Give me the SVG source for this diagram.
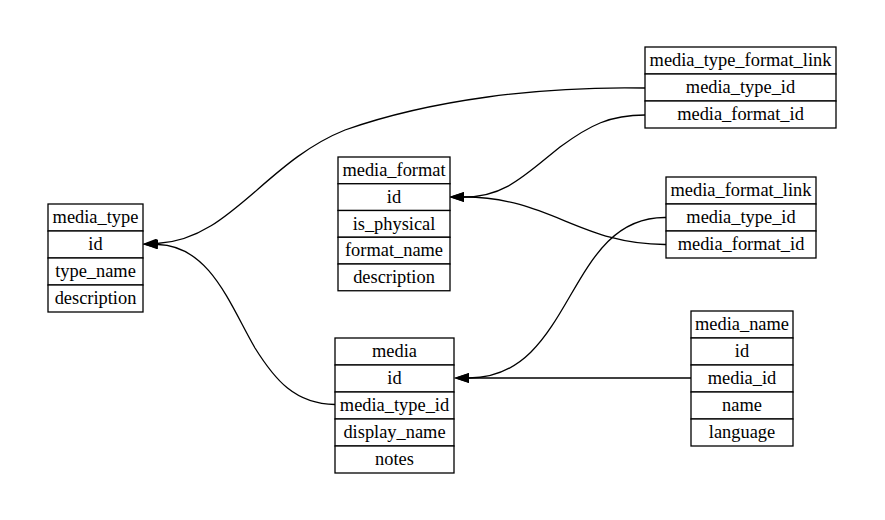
<svg xmlns="http://www.w3.org/2000/svg" width="885" height="520" viewBox="0 0 885 520">
<style>
  .cell { fill: #ffffff; stroke: #000000; stroke-width: 1.3; }
  .t { font-family: "Liberation Serif", "Times New Roman", serif; font-size: 18.4px; fill: #000000; text-anchor: middle; }
  .edge { fill: none; stroke: #000000; stroke-width: 1.3; }
</style>
<defs>
  <marker id="arrow" viewBox="0 0 15 10" refX="0" refY="5" markerWidth="15" markerHeight="10" markerUnits="userSpaceOnUse" orient="auto">
    <path d="M0,0 L15,5 L0,10 z" fill="#000000"/>
  </marker>
</defs>
<rect width="885" height="520" fill="#ffffff"/>

<g id="connectors">
  <path class="edge" marker-end="url(#arrow)" d="M645,88 C540,86 430,100 345,130 C265,162 230,240 157,243.5"/>
  <path class="edge" marker-end="url(#arrow)" d="M645,115 C610,115 590,125 560,147 C525,175 505,197 464,197"/>
  <path class="edge" marker-end="url(#arrow)" d="M666,244.5 C580,245 550,197 464,197"/>
  <path class="edge" marker-end="url(#arrow)" d="M666,217.5 C565,216 575,378 469,378"/>
  <path class="edge" marker-end="url(#arrow)" d="M335,404.5 C295,404 275,380 255,348 C230,305 210,246 158,244.5"/>
  <path class="edge" marker-end="url(#arrow)" d="M691,378 L469,378"/>
</g>

<g id="media_type">
  <rect class="cell" x="48" y="204" width="95" height="27"/>
  <rect class="cell" x="48" y="231" width="95" height="27"/>
  <rect class="cell" x="48" y="258" width="95" height="27"/>
  <rect class="cell" x="48" y="285" width="95" height="27"/>
  <text class="t" x="95.5" y="223">media_type</text>
  <text class="t" x="95.5" y="250">id</text>
  <text class="t" x="95.5" y="277">type_name</text>
  <text class="t" x="95.5" y="304">description</text>
</g>

<g id="media_format">
  <rect class="cell" x="338" y="157" width="112" height="26.75"/>
  <rect class="cell" x="338" y="183.75" width="112" height="26.75"/>
  <rect class="cell" x="338" y="210.5" width="112" height="26.75"/>
  <rect class="cell" x="338" y="237.25" width="112" height="26.75"/>
  <rect class="cell" x="338" y="264" width="112" height="26.75"/>
  <text class="t" x="394" y="176">media_format</text>
  <text class="t" x="394" y="202.7">id</text>
  <text class="t" x="394" y="229.5">is_physical</text>
  <text class="t" x="394" y="256.2">format_name</text>
  <text class="t" x="394" y="283">description</text>
</g>

<g id="media_type_format_link">
  <rect class="cell" x="645" y="47" width="191" height="27"/>
  <rect class="cell" x="645" y="74" width="191" height="27"/>
  <rect class="cell" x="645" y="101" width="191" height="27"/>
  <text class="t" x="740.5" y="66">media_type_format_link</text>
  <text class="t" x="740.5" y="93">media_type_id</text>
  <text class="t" x="740.5" y="120">media_format_id</text>
</g>

<g id="media_format_link">
  <rect class="cell" x="666" y="177" width="150" height="27"/>
  <rect class="cell" x="666" y="204" width="150" height="27"/>
  <rect class="cell" x="666" y="231" width="150" height="27"/>
  <text class="t" x="741" y="196">media_format_link</text>
  <text class="t" x="741" y="223">media_type_id</text>
  <text class="t" x="741" y="250">media_format_id</text>
</g>

<g id="media">
  <rect class="cell" x="335" y="338" width="119" height="27"/>
  <rect class="cell" x="335" y="365" width="119" height="27"/>
  <rect class="cell" x="335" y="392" width="119" height="27"/>
  <rect class="cell" x="335" y="419" width="119" height="27"/>
  <rect class="cell" x="335" y="446" width="119" height="27"/>
  <text class="t" x="394.5" y="357">media</text>
  <text class="t" x="394.5" y="384">id</text>
  <text class="t" x="394.5" y="411">media_type_id</text>
  <text class="t" x="394.5" y="438">display_name</text>
  <text class="t" x="394.5" y="465">notes</text>
</g>

<g id="media_name">
  <rect class="cell" x="691" y="311" width="102" height="27"/>
  <rect class="cell" x="691" y="338" width="102" height="27"/>
  <rect class="cell" x="691" y="365" width="102" height="27"/>
  <rect class="cell" x="691" y="392" width="102" height="27"/>
  <rect class="cell" x="691" y="419" width="102" height="27"/>
  <text class="t" x="742" y="330">media_name</text>
  <text class="t" x="742" y="357">id</text>
  <text class="t" x="742" y="384">media_id</text>
  <text class="t" x="742" y="411">name</text>
  <text class="t" x="742" y="438">language</text>
</g>
</svg>
